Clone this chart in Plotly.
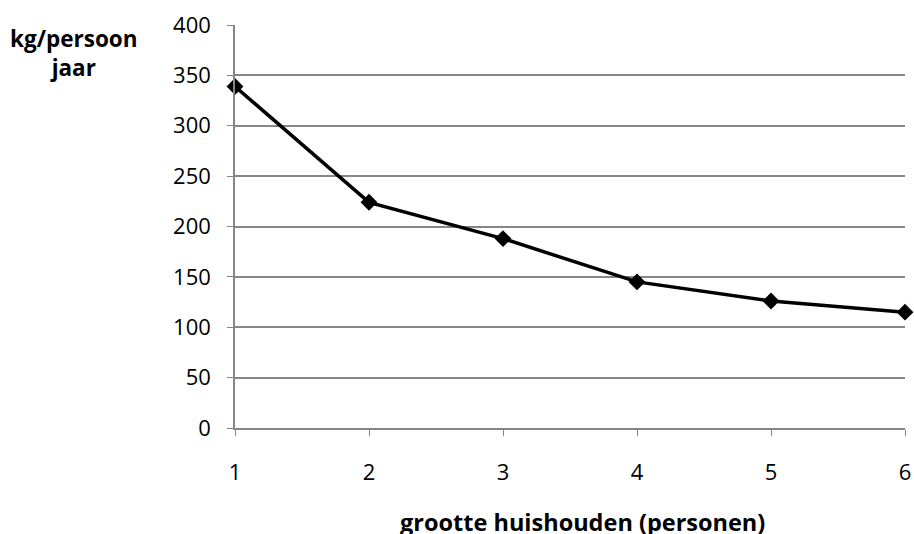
import plotly.graph_objects as go

household_size = [1, 2, 3, 4, 5, 6]
kg_per_person = [339, 224, 188, 145, 126, 115]
y_ticks = [0, 50, 100, 150, 200, 250, 300, 350, 400]

font_family = "Open Sans, Liberation Sans, sans-serif"
grey = "#868686"

fig = go.Figure()
fig.add_trace(go.Scatter(
    x=household_size, y=kg_per_person, mode="lines+markers",
    line=dict(color="black", width=3.5),
    marker=dict(symbol="diamond", size=13, color="black"),
    cliponaxis=False, showlegend=False, hoverinfo="skip",
))

fig.update_layout(
    width=914, height=534,
    margin=dict(l=235, r=9, t=25, b=106),
    paper_bgcolor="white", plot_bgcolor="white",
    font=dict(family=font_family, size=22, color="black"),
    xaxis=dict(
        range=[1, 6], tickvals=household_size, ticks="outside", ticklen=6,
        tickcolor=grey, showgrid=False, showline=True, linecolor=grey,
        linewidth=1.5, zeroline=False, ticklabelstandoff=18, automargin=False,
        tickfont=dict(size=22),
    ),
    yaxis=dict(
        range=[0, 400], tickvals=y_ticks, ticks="outside", ticklen=6,
        tickcolor=grey, showgrid=True, gridcolor=grey, gridwidth=1.5,
        showline=True, linecolor=grey, linewidth=1.5, zeroline=False,
        ticklabelstandoff=12, automargin=False, tickfont=dict(size=22),
    ),
    annotations=[
        dict(text="<b>kg/persoon<br>jaar</b>", xref="paper", yref="paper",
             x=-0.241, y=0.93, xanchor="center", yanchor="middle",
             showarrow=False, font=dict(size=22.5), align="center"),
        dict(text="<b>grootte huishouden (personen)</b>", xref="paper", yref="paper",
             x=0.519, y=-0.234, xanchor="center", yanchor="middle",
             showarrow=False, font=dict(size=23.5)),
    ],
)

fig.write_html(
    "out.html",
    config={"displayModeBar": False},
    post_script="document.body.style.margin='0px';document.body.style.overflow='hidden';",
)
